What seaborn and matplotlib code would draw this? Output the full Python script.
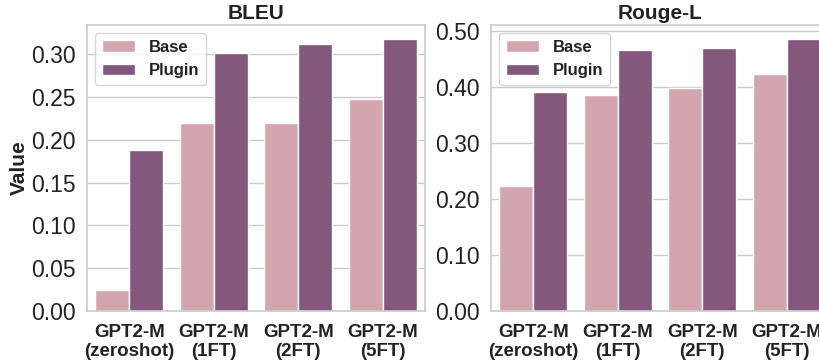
import numpy as np
import pandas as pd
import seaborn as sns
import matplotlib.pyplot as plt
from matplotlib.ticker import FormatStrFormatter

# dati
models = ['GPT2-M\n(zeroshot)', 'GPT2-M\n(1FT)', 'GPT2-M\n(2FT)', 'GPT2-M\n(5FT)']
bleu_base = [0.024, 0.219, 0.220, 0.248]
bleu_plugin = [0.188, 0.301, 0.312, 0.318]
rouge_base = [0.224, 0.387, 0.398, 0.424]
rouge_plugin = [0.391, 0.467, 0.471, 0.487]

bleu_ticks = [0.00, 0.05, 0.10, 0.15, 0.20, 0.25, 0.30]
rouge_ticks = [0.00, 0.10, 0.20, 0.30, 0.40, 0.50]

colors = ['#d3a6ae', '#84577c']

sns.set_theme(style='whitegrid')
plt.rcParams['font.family'] = ['Liberation Sans', 'DejaVu Sans']


def make_df(base, plugin):
    return pd.DataFrame({
        'Model': models * 2,
        'Value': base + plugin,
        'Type': ['Base'] * len(models) + ['Plugin'] * len(models),
    })


fig = plt.figure(figsize=(8.19, 3.64), dpi=100)
ax1 = fig.add_axes([0.1062, 0.1456, 0.4127, 0.7857])
ax2 = fig.add_axes([0.5995, 0.1456, 0.4127, 0.7857])

panels = [
    (ax1, make_df(bleu_base, bleu_plugin), 'BLEU', bleu_ticks, 'Value'),
    (ax2, make_df(rouge_base, rouge_plugin), 'Rouge-L', rouge_ticks, ''),
]

for ax, df, title, ticks, ylab in panels:
    sns.barplot(data=df, x='Model', y='Value', hue='Type', palette=colors,
                saturation=1, ax=ax, edgecolor='white', linewidth=1)
    ax.set_title(title, fontsize=15, fontweight='bold', pad=4, color='#222222')
    ax.set_xlabel('')
    ax.set_ylabel(ylab, fontsize=15, fontweight='bold', labelpad=2, color='#222222')
    ax.set_yticks(ticks)
    ax.yaxis.set_major_formatter(FormatStrFormatter('%.2f'))
    ax.tick_params(axis='y', labelsize=16.5, pad=2, labelcolor='#222222')
    ax.tick_params(axis='x', labelsize=13.5, pad=3, labelcolor='#222222')
    for lab in ax.get_xticklabels():
        lab.set_fontweight('bold')
    ax.grid(axis='x', visible=False)
    leg = ax.legend(loc='upper left', fontsize=12, title=None)
    for t in leg.get_texts():
        t.set_fontweight('bold')
        t.set_color('#222222')

plt.savefig('out.png', dpi=100)
